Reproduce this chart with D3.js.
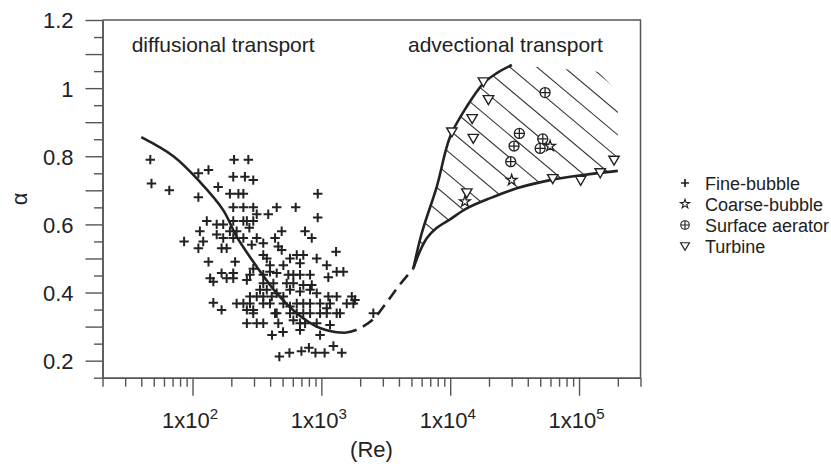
<!DOCTYPE html>
<html>
<head>
<meta charset="utf-8">
<script src="https://cdn.jsdelivr.net/npm/d3@7"></script>
<style>
  body { margin: 0; background: #fff; }
  text { font-family: "Liberation Sans", Arial, sans-serif; fill: #222; }
</style>
</head>
<body>
<svg id="chart" width="831" height="464"></svg>
<script>
// ---- data (Re, alpha) ----
const fineBubble = [
  [47,0.79],[48,0.72],[66,0.70],[111,0.75],[133,0.76],[210,0.79],[271,0.79],[207,0.74],[255,0.74],[296,0.73],
  [158,0.71],[195,0.69],[227,0.69],[248,0.69],[937,0.69],[111,0.68],[207,0.65],[248,0.65],[296,0.65],[450,0.65],
  [632,0.65],[315,0.63],[387,0.63],[937,0.62],[129,0.61],[154,0.60],[173,0.60],[207,0.61],[248,0.61],[264,0.61],
  [296,0.61],[114,0.58],[154,0.57],[195,0.58],[220,0.58],[276,0.59],[492,0.58],[747,0.58],[173,0.56],[207,0.56],
  [248,0.56],[86,0.55],[121,0.55],[315,0.56],[437,0.56],[842,0.56],[111,0.53],[168,0.53],[184,0.53],[288,0.54],
  [354,0.545],[463,0.535],[492,0.525],[354,0.51],[377,0.50],[571,0.50],[644,0.51],[724,0.51],[920,0.50],[1300,0.52],
  [133,0.49],[214,0.49],[399,0.48],[507,0.48],[683,0.486],[1101,0.48],[296,0.47],[168,0.457],[207,0.457],[137,0.442],
  [145,0.432],[184,0.442],[207,0.442],[279,0.452],[264,0.437],[354,0.452],[399,0.461],[450,0.457],[554,0.452],[606,0.452],
  [683,0.452],[817,0.452],[1132,0.445],[1315,0.461],[1482,0.461],[354,0.427],[424,0.427],[538,0.427],[606,0.427],[724,0.422],
  [842,0.422],[334,0.408],[377,0.408],[450,0.398],[507,0.388],[571,0.408],[683,0.403],[817,0.408],[920,0.398],[1132,0.388],
  [1315,0.388],[1722,0.388],[1824,0.378],[145,0.37],[168,0.349],[220,0.368],[248,0.368],[279,0.368],[279,0.388],[315,0.388],
  [354,0.388],[412,0.388],[264,0.349],[296,0.349],[354,0.368],[399,0.368],[507,0.368],[571,0.359],[644,0.368],[724,0.368],
  [817,0.368],[977,0.368],[1167,0.368],[1101,0.354],[1574,0.368],[1771,0.368],[450,0.339],[571,0.339],[644,0.339],[724,0.339],
  [817,0.339],[977,0.339],[1101,0.339],[1315,0.339],[1396,0.339],[437,0.339],[296,0.339],[264,0.31],[315,0.31],[354,0.31],
  [463,0.31],[606,0.319],[683,0.31],[747,0.31],[920,0.31],[1167,0.305],[414,0.275],[504,0.284],[683,0.29],[977,0.275],
  [472,0.212],[565,0.223],[700,0.228],[800,0.238],[900,0.223],[1060,0.223],[1240,0.243],[1440,0.223],[2531,0.339]
];
const coarseBubble = [[13000,0.667],[30000,0.73],[59600,0.83]];
const surfaceAerator = [[54500,0.987],[34400,0.867],[31300,0.83],[29500,0.784],[52300,0.851],[49900,0.823]];
const turbine = [[18100,1.019],[19800,0.967],[14800,0.911],[10300,0.872],[15100,0.853],[13450,0.693],
                 [62500,0.735],[103000,0.73],[146000,0.752],[187000,0.789]];

// curves
const diffCurve = [[40,0.856],[71,0.80],[114,0.725],[173,0.642],[220,0.564],[315,0.476],[450,0.398],
                   [644,0.339],[920,0.30],[1277,0.284],[1528,0.282]];
const transCurve = [[1528,0.282],[1860,0.29],[2500,0.32],[3180,0.369],[4000,0.42],[5180,0.471]];
const upperBound = [[5180,0.471],[6010,0.574],[7870,0.711],[9980,0.857],[13450,0.946],[18100,1.014],[23000,1.044],[30100,1.068]];
const lowerBound = [[5180,0.471],[5800,0.52],[6600,0.56],[7870,0.59],[9980,0.615],[13450,0.647],[20400,0.677],
                    [32900,0.706],[59600,0.73],[108000,0.745],[200000,0.757]];
const hatchEdge = [[30100,1.068],[140000,1.048],[200000,0.99],[200000,0.757]];

const majorX = [1e2,1e3,1e4,1e5];
const minorX = [2e1,3e1,4e1,5e1,6e1,7e1,8e1,9e1,2e2,3e2,4e2,5e2,6e2,7e2,8e2,9e2,2e3,3e3,4e3,5e3,6e3,7e3,8e3,9e3,
                2e4,3e4,4e4,5e4,6e4,7e4,8e4,9e4,2e5,3e5];
const xLabelExp = ["2","3","4","5"];
const majorY = [0.2,0.3,0.4,0.5,0.6,0.7,0.8,0.9,1.0,1.1,1.2];
const minorY = [0.15,0.25,0.35,0.45,0.55,0.65,0.75,0.85,0.95,1.05,1.15];
const legendNames = ["Fine-bubble","Coarse-bubble","Surface aerator","Turbine"];

// ---- layout ----
const svg = d3.select("#chart");
const x = d3.scaleLog().domain([20,3e5]).range([102.5,640.5]);
const y = d3.scaleLinear().domain([0.15,1.2]).range([377.7,20]);
const ink = "#222", axisCol = "#555";

// frame (top + right)
svg.append("path")
  .attr("d",`M${x(20)},${y(1.2)}H${x(3e5)}V${y(0.15)}`)
  .attr("fill","none").attr("stroke",axisCol).attr("stroke-width",1.5);

// axes
function styleAxis(g){
  g.select(".domain").attr("stroke",axisCol).attr("stroke-width",1.5);
  g.selectAll(".tick line").attr("stroke",axisCol).attr("stroke-width",1.4);
}
svg.append("g").attr("transform",`translate(0,${y(0.15)})`)
  .call(d3.axisBottom(x).tickValues(minorX).tickSize(9).tickSizeOuter(0).tickFormat(""))
  .call(styleAxis);
const gx = svg.append("g").attr("transform",`translate(0,${y(0.15)})`)
  .call(d3.axisBottom(x).tickValues(majorX).tickSize(18).tickSizeOuter(0).tickFormat(""))
  .call(styleAxis);
gx.selectAll(".tick").append("text")
  .attr("x",-3).attr("y",50).attr("text-anchor","middle")
  .style("font-size","22px")
  .each(function(d,i){
    const t = d3.select(this);
    t.append("tspan").text("1x10");
    t.append("tspan").attr("dy",-9).style("font-size","15px").text(xLabelExp[i]);
  });

svg.append("g").attr("transform",`translate(${x(20)},0)`)
  .call(d3.axisLeft(y).tickValues(minorY).tickSize(8.5).tickSizeOuter(0).tickFormat(""))
  .call(styleAxis);
svg.append("g").attr("transform",`translate(${x(20)},0)`)
  .call(d3.axisLeft(y).tickValues(majorY).tickSize(17).tickSizeOuter(0).tickPadding(12)
    .tickFormat(d => (Math.round(d*10) % 2 === 0) ? d3.format("")(+d.toFixed(1)) : ""))
  .call(styleAxis)
  .call(g => g.selectAll(".tick text").style("font-size","22px").attr("fill",ink).attr("dy","0.36em"));

// axis titles
svg.append("text").attr("x",(x(20)+x(3e5))/2).attr("y",457).attr("text-anchor","middle")
  .style("font-size","22px").text("(Re)");
svg.append("text").attr("transform",`translate(27,${y(0.675)}) rotate(-90)`).attr("text-anchor","middle")
  .style("font-size","22px").text("α");

// annotations
svg.append("text").attr("x",131.7).attr("y",51.7).style("font-size","21px").text("diffusional transport");
svg.append("text").attr("x",408).attr("y",52).style("font-size","21px").text("advectional transport");

// ---- hatched region ----
const line = d3.line().x(d => x(d[0])).y(d => y(d[1])).curve(d3.curveCatmullRom);
const straight = d3.line().x(d => x(d[0])).y(d => y(d[1]));
const regionD = line(upperBound) + straight(hatchEdge).replace(/^M[^L]*/,"") +
                "L" + line(lowerBound.slice().reverse()).slice(1) + "Z";
svg.append("defs").append("clipPath").attr("id","hatchClip").append("path").attr("d",regionD);

const th = 40*Math.PI/180, dir = [Math.cos(th),Math.sin(th)], nrm = [-Math.sin(th),Math.cos(th)];
const anchor = [x(1.35e5), y(1.05)];
const c0 = nrm[0]*anchor[0] + nrm[1]*anchor[1];
const hatchOffsets = d3.range(0,17).map(k => c0 + k*17.4);
const L = 1500;
svg.append("g").attr("clip-path","url(#hatchClip)")
  .selectAll("line").data(hatchOffsets).join("line")
  .attr("x1",c => c*nrm[0] - L*dir[0]).attr("y1",c => c*nrm[1] - L*dir[1])
  .attr("x2",c => c*nrm[0] + L*dir[0]).attr("y2",c => c*nrm[1] + L*dir[1])
  .attr("stroke","#333").attr("stroke-width",1.1);

// curves
const curveG = svg.append("g").attr("fill","none").attr("stroke",ink).attr("stroke-width",2.6);
curveG.append("path").attr("d",line(diffCurve));
curveG.append("path").attr("d",line(transCurve)).attr("stroke-dasharray","12,7");
curveG.append("path").attr("d",line(upperBound));
curveG.append("path").attr("d",line(lowerBound));

// ---- markers ----
const markers = {
  plus: g => g.append("path").attr("d","M-4.7,0H4.7M0,-4.7V4.7").attr("stroke",ink).attr("stroke-width",2).attr("fill","none"),
  star: g => g.append("path").attr("d",d3.symbol(d3.symbolStar,36)()).attr("fill","#fff").attr("stroke",ink).attr("stroke-width",1.3),
  cplus: g => { g.append("circle").attr("r",5).attr("fill","#fff").attr("stroke",ink).attr("stroke-width",1.3);
                g.append("path").attr("d","M-5,0H5M0,-5V5").attr("stroke",ink).attr("stroke-width",1.3); },
  tri: g => g.append("path").attr("d","M-5.2,-3.8L5.2,-3.8L0,5.2Z").attr("fill","#fff").attr("stroke",ink).attr("stroke-width",1.4)
};
function plot(data, kind){
  svg.append("g").selectAll("g").data(data).join("g")
    .attr("transform",d => `translate(${x(d[0])},${y(d[1])})`)
    .each(function(){ markers[kind](d3.select(this)); });
}
plot(fineBubble,"plus");
plot(turbine,"tri");
plot(coarseBubble,"star");
plot(surfaceAerator,"cplus");

// ---- legend ----
const kinds = ["plus","star","cplus","tri"];
const leg = svg.append("g").selectAll("g").data(legendNames).join("g")
  .attr("transform",(d,i) => `translate(685,${183 + i*21})`);
leg.each(function(d,i){
  const g = d3.select(this);
  markers[kinds[i]](g.append("g").attr("transform","scale(0.85)"));
  g.append("text").attr("x",20).attr("y",6.5).style("font-size","18px").text(d);
});
</script>
</body>
</html>
